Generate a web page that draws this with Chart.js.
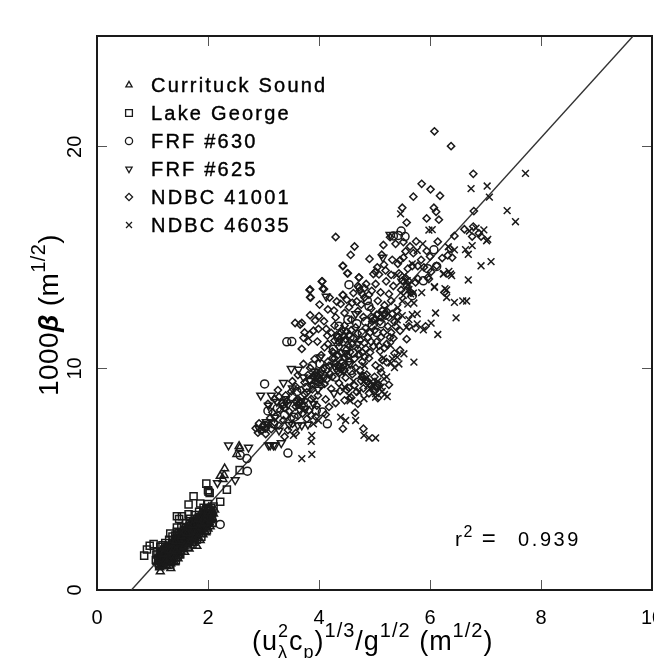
<!DOCTYPE html>
<html>
<head>
<meta charset="utf-8">
<title>Steepness scatter</title>
<script src="https://cdn.jsdelivr.net/npm/chart.js@4"></script>
<style>
  html, body { margin: 0; padding: 0; background: #fff; overflow: hidden; }
  canvas { display: block; filter: blur(0.35px); }
</style>
</head>
<body>
<canvas id="chart" width="654" height="658"></canvas>
<script>
// values, [x, y]
const currituck = [
  [2.56,6.49],[2.52,6.13],[2.57,6.4],[2.3,5.48],[2.22,5.14],[2.29,5.18],[2.27,5.0],[1.14,0.83],[1.33,0.98],[1.8,1.98],
  [1.08,1.25],[1.11,1.58],[1.13,1.02],[1.16,1.77],[1.18,1.36],[1.2,1.12],[1.22,1.64],[1.24,1.98],[1.27,1.26],[1.29,1.51],
  [1.31,2.1],[1.33,1.2],[1.35,1.72],[1.37,2.24],[1.39,1.41],[1.41,1.91],[1.43,1.5],[1.45,2.46],[1.47,1.66],[1.49,2.18],
  [1.51,1.74],[1.53,2.67],[1.55,1.98],[1.57,2.33],[1.59,2.41],[1.61,2.86],[1.63,2.06],[1.65,2.52],[1.67,2.58],[1.69,3.04],
  [1.71,2.28],[1.73,2.72],[1.75,2.76],[1.77,3.22],[1.79,2.46],[1.81,2.92],[1.83,2.96],[1.85,3.38],[1.87,2.61],[1.89,3.14],
  [1.91,3.14],[1.93,3.58],[1.95,2.82],[1.97,3.31],[1.99,2.98],[2.01,3.72],[2.03,3.03],[2.06,3.42],[2.09,3.2],[2.12,3.62],
  [1.2,1.9],[1.26,1.08],[1.4,1.24],[1.46,1.42],[1.58,1.72],[1.66,1.86],[1.74,2.12],[1.86,2.24],[1.96,2.6],[2.04,2.86],
  [1.12,1.34],[1.17,1.06],[1.23,1.42],[1.28,1.8],[1.34,1.56],[1.38,1.84],[1.44,1.64],[1.5,1.92],[1.56,2.14],[1.6,2.26],
  [1.64,2.18],[1.68,2.38],[1.72,2.44],[1.76,2.38],[1.8,2.62],[1.84,2.52],[1.88,2.82],[1.92,2.72],[1.98,2.84],[2.02,3.3],
  [1.14,1.5],[1.22,1.26],[1.3,1.38],[1.42,2.2],[1.54,2.2],[1.7,2.72],[1.82,3.2],[1.94,3.3],[2.0,3.44],[2.08,3.56],
  [1.15,1.12],[1.19,1.62],[1.25,1.22],[1.32,1.78],[1.36,1.3],[1.42,1.76],[1.48,1.56],[1.52,2.42],[1.57,1.96],[1.62,2.56],
  [1.67,2.12],[1.72,2.92],[1.77,2.22],[1.83,2.34],[1.87,3.0],[1.91,2.5],[1.95,3.02],[2.0,2.76],[2.05,3.14],[2.1,3.44]
];
const lakeGeorge = [
  [1.97,4.8],[2.01,4.43],[2.0,4.5],[2.03,4.38],[1.74,4.23],[1.65,3.86],[2.34,4.53],[2.22,3.98],[1.44,3.33],[1.53,3.33],
  [1.65,3.42],[1.48,3.2],[1.02,2.07],[0.9,1.83],[0.85,1.55],[0.95,2.0],[1.32,2.55],[1.44,2.82],[2.57,5.41],[1.86,3.9],
  [1.06,1.35],[1.09,1.72],[1.12,1.1],[1.14,1.95],[1.17,1.52],[1.19,1.28],[1.21,1.83],[1.23,2.12],[1.26,1.44],[1.28,1.67],
  [1.3,2.27],[1.32,1.15],[1.34,1.92],[1.36,2.41],[1.38,1.58],[1.4,2.08],[1.42,1.33],[1.44,2.63],[1.46,1.81],[1.48,2.35],
  [1.5,1.62],[1.52,2.84],[1.54,2.14],[1.56,1.88],[1.58,2.57],[1.6,3.02],[1.62,2.22],[1.64,1.95],[1.66,2.73],[1.68,3.21],
  [1.7,2.46],[1.72,2.05],[1.74,2.91],[1.76,3.38],[1.78,2.62],[1.8,2.28],[1.82,3.12],[1.84,3.53],[1.86,2.77],[1.88,2.41],
  [1.9,3.3],[1.92,3.71],[1.94,2.96],[1.96,3.45],[1.98,2.7],[2.0,3.88],[2.02,3.18],[2.05,3.56],[2.08,3.03],[2.1,3.77],
  [1.1,1.42],[1.15,1.18],[1.25,1.75],[1.35,1.48],[1.45,2.04],[1.55,2.46],[1.65,2.32],[1.75,2.55],[1.85,3.04],[1.95,3.18],
  [1.07,1.6],[1.18,2.02],[1.29,2.0],[1.41,2.46],[1.53,2.3],[1.63,2.68],[1.73,3.11],[1.83,2.7],[1.93,3.05],[2.03,3.4],
  [1.13,1.66],[1.16,1.3],[1.22,1.5],[1.27,1.9],[1.33,1.7],[1.37,2.12],[1.43,1.86],[1.47,2.56],[1.51,2.1],[1.57,2.7],
  [1.61,2.44],[1.67,2.96],[1.71,2.7],[1.77,2.98],[1.81,2.84],[1.87,3.28],[1.91,3.04],[1.97,3.66],[2.01,3.06],[2.07,3.3],
  [1.2,1.44],[1.31,1.62],[1.39,1.9],[1.49,1.98],[1.59,2.16],[1.69,2.56],[1.79,2.76],[1.89,2.92],[1.99,3.2],[2.06,3.7],
  [1.11,1.22],[1.17,1.74],[1.24,1.32],[1.3,1.5],[1.36,1.8],[1.42,2.32],[1.46,1.6],[1.52,2.58],[1.56,2.2],[1.6,2.78],
  [1.64,2.3],[1.68,2.72],[1.72,2.58],[1.76,3.1],[1.8,2.5],[1.84,3.28],[1.88,2.66],[1.92,3.46],[1.96,2.9],[2.0,3.6]
];
const frf630 = [
  [2.7,5.93],[2.71,5.36],[2.22,2.96],[2.58,6.08],[3.44,6.18],[4.15,7.5],[4.06,8.03],[3.51,11.21],[4.54,13.78],[4.87,13.06],
  [5.43,16.0],[5.55,15.95],[5.48,16.2],[5.34,15.98],[3.42,11.2],[3.25,8.2],[3.55,7.8],[3.6,8.95],[3.02,9.3],[4.9,12.8],
  [1.11,1.44],[1.16,1.62],[1.2,1.18],[1.25,1.55],[1.3,1.82],[1.34,1.36],[1.38,2.02],[1.43,1.72],[1.47,2.28],[1.5,2.0],
  [1.54,2.52],[1.58,2.12],[1.62,2.64],[1.66,2.4],[1.7,2.9],[1.74,2.48],[1.78,3.02],[1.82,2.72],[1.86,3.22],[1.9,2.88],
  [1.94,3.38],[1.98,3.12],[2.02,3.54],[2.06,3.22],[1.24,1.3],[1.36,1.62],[1.5,2.24],[1.62,2.42],[1.76,2.82],[1.88,3.02],
  [4.02,10.2],[4.3,9.6],[4.36,11.9],[4.46,11.2],[4.62,10.7],[4.78,11.6],[4.96,11.95],[5.08,12.4],[3.86,9.5],[3.72,8.3],
  [3.38,7.9],[3.08,8.08],[5.12,12.02],[5.68,13.28],[5.88,13.95],[5.96,14.5],[6.12,14.6],[6.07,15.35],
  [1.15,1.4],[1.28,1.6],[1.4,2.16],[1.52,2.32],[1.6,2.52],[1.72,2.6],[1.84,3.1],[1.92,3.16],[2.0,3.3],[1.18,1.2],
  [3.36,8.42],[3.62,8.5],[3.94,9.62],[4.0,9.4],[4.38,10.04],[4.42,10.2],[4.34,11.4],[4.98,12.24],[5.16,12.56],[5.2,12.4],
  [4.8,9.62],[5.04,9.2],[3.95,8.1],[3.18,7.5],[3.02,7.42],[4.52,12.2],
  [3.52,8.72],[3.78,9.14],[3.88,10.12],[4.12,9.98],[4.26,10.86],[4.56,11.42],[4.68,12.02],[4.84,12.12],[5.04,11.62],[4.58,9.9]
];
const frf625 = [
  [2.37,6.53],[2.73,6.43],[2.95,8.78],[3.5,9.98],[3.63,9.95],[4.13,13.24],[3.12,6.53],[3.21,6.53],[3.32,6.63],[3.62,7.43],
  [3.69,7.43],[3.8,7.47],[3.14,8.78],[3.09,8.33],[4.27,8.88],[4.48,10.69],[4.66,12.46],[5.28,16.03],[3.09,6.53],[3.18,6.53],
  [2.49,4.96],[2.17,4.83],[3.24,8.5],[3.4,8.62],[3.52,9.1],[3.36,9.35],[3.72,9.6],[3.66,8.1],[3.9,8.4],[3.98,9.05],
  [4.1,9.6],[4.28,10.1],[4.56,10.2],[3.05,7.58],[3.28,7.2],[3.46,7.46],[2.92,7.28],[5.15,15.0],
  [3.68,8.52],[3.76,8.18],[3.84,9.44],[3.92,9.86],[4.04,9.78],[4.44,9.9],[4.7,11.1],[4.02,10.5],[3.44,8.36],[3.2,7.78]
];
const ndbc41001 = [
  [6.08,20.7],[6.38,20.03],[6.78,18.78],[5.85,18.33],[6.01,18.08],[6.18,17.79],[5.7,17.75],[5.5,17.25],[6.07,17.25],[6.11,17.07],
  [5.58,16.58],[5.94,16.77],[6.16,16.71],[6.79,17.1],[4.3,15.93],[4.64,15.5],[4.57,15.12],[5.16,15.57],[5.75,15.73],[6.14,15.72],
  [5.13,15.13],[4.91,14.94],[4.43,14.62],[4.52,14.29],[4.05,13.92],[3.84,13.56],[4.07,13.59],[3.85,13.2],[4.19,13.2],[4.43,13.32],
  [4.72,14.1],[5.05,14.56],[5.2,14.42],[5.17,14.68],[4.98,14.26],[5.21,13.93],[5.44,14.29],[5.02,13.81],[5.11,13.43],[5.26,13.36],
  [4.72,14.11],[4.85,13.81],[4.43,13.31],[4.01,12.88],[3.57,12.05],[3.69,12.05],[3.93,12.16],[4.09,12.13],[3.69,10.88],[3.72,11.38],
  [3.83,11.53],[3.97,11.21],[3.81,11.21],[3.99,11.78],[4.13,11.78],[4.15,11.48],[4.27,12.61],[4.39,12.91],[4.54,12.76],[4.6,12.96],
  [5.98,14.03],[6.26,13.43],[5.89,14.56],[6.12,14.63],[5.7,15.2],[6.44,15.98],[6.62,16.28],[6.78,16.4],[6.88,16.1],[6.92,15.95],
  [6.4,15.0],[6.0,15.05],[5.68,14.62],[5.78,14.05],[5.96,14.1],[6.36,15.4],[6.76,15.95],[5.46,14.88],[5.32,14.9],[5.52,15.0],
  [3.83,13.54],[4.09,13.58],[4.43,14.63],[4.51,14.29],[4.06,13.93],[3.84,13.21],[4.72,13.65],[4.62,13.4],[4.82,13.2],[4.95,13.5],
  [4.3,12.3],[4.46,12.5],[4.58,12.2],[4.7,12.58],[4.8,12.32],[4.94,12.7],[5.06,13.05],[5.18,12.85],[5.3,13.05],[5.4,12.6],
  [4.22,11.6],[4.34,11.4],[4.42,11.75],[4.54,11.52],[4.66,11.85],[4.74,11.28],[4.88,11.4],[5.0,11.72],[5.12,11.42],[5.24,11.9],
  [5.36,12.1],[4.1,10.95],[4.24,10.76],[4.36,10.98],[4.5,10.86],[4.6,11.1],[4.72,10.64],[4.84,10.9],[4.98,11.0],[5.1,10.78],
  [5.22,11.1],[3.92,10.42],[4.04,10.6],[4.16,10.3],[4.28,10.46],[4.42,10.28],[4.52,10.56],[4.66,10.02],[4.78,10.3],[4.9,10.46],
  [5.02,10.14],[5.14,10.38],[3.72,10.2],[3.84,10.02],[3.96,9.82],[4.08,10.02],[4.2,9.76],[4.34,9.9],[4.48,9.58],[4.6,9.74],
  [4.74,9.92],[4.88,9.42],[5.0,9.62],[5.12,9.82],[3.52,9.42],[3.62,9.7],[3.74,9.36],[3.86,9.24],[3.98,9.52],[4.1,9.3],
  [4.22,9.08],[4.36,9.34],[4.5,9.02],[4.64,9.24],[4.8,9.1],[4.94,9.24],[3.26,9.02],[3.4,8.78],[3.5,8.96],[3.62,8.62],
  [3.74,8.84],[3.86,8.62],[3.98,8.78],[4.12,8.6],[4.3,8.44],[4.46,8.56],[4.58,8.68],[4.7,8.4],[3.08,8.4],[3.2,8.62],
  [3.34,8.3],[3.46,8.06],[3.58,8.28],[3.7,7.96],[3.82,8.1],[3.94,7.82],[4.12,7.92],[4.65,8.0],[4.43,7.28],[4.8,7.28],
  [2.86,7.3],[2.92,7.52],[2.98,7.36],[3.04,7.04],[3.14,7.26],[3.2,7.56],[3.28,7.42],[3.38,6.92],[3.44,7.22],[3.52,7.5],
  [3.58,7.08],[5.28,15.92],[5.38,15.62],[5.56,15.28],[5.42,14.72],[5.6,14.5],[5.78,14.62],[5.3,14.22],[5.58,13.72],[5.66,13.42],
  [3.66,11.98],[3.74,11.62],[3.84,12.4],[3.9,11.7],[4.0,12.36],[4.16,12.66],[4.32,13.02],[4.5,13.1],[4.68,13.02],[4.76,12.88],
  [5.34,11.36],[5.46,11.7],[5.58,11.32],[5.62,11.9],[5.46,10.82],[5.36,10.68],[5.22,10.28],[5.1,10.0],[5.92,11.9],[5.74,11.82],
  [4.32,11.5],[4.38,11.3],[4.44,11.46],[4.4,11.62],[4.36,11.18],[4.28,11.26],[4.48,11.32],[4.52,11.06],[4.94,12.34],[5.0,12.22],
  [5.04,12.42],[4.96,12.12],[5.14,12.62],[5.18,12.44],[5.22,12.58],[5.12,12.3],[3.92,9.72],[3.98,9.66],[4.02,9.48],[3.94,9.44],
  [3.9,9.62],[4.04,9.22],[4.34,10.14],[4.4,9.96],[4.44,10.12],[4.36,9.78],[4.46,9.92],[4.3,10.22],[3.66,8.46],[3.7,8.32],
  [3.62,8.36],[3.58,8.52],[3.74,8.54],[3.34,8.44],[3.38,8.22],[3.3,8.12],[3.42,8.5],[3.0,7.44],[3.04,7.28],[2.96,7.2],
  [3.08,7.5],[2.9,7.1],[4.78,9.62],[4.84,9.46],[4.76,9.44],[4.86,9.72],[5.02,9.18],[5.08,9.26],[5.0,8.98],[4.98,9.36],
  [4.74,13.52],[4.78,13.36],[4.7,13.72],[5.02,14.36],[5.08,14.24],[5.56,14.08],[5.62,13.92],[5.5,13.96],[4.9,13.32],[4.82,13.62],
  [4.28,11.94],[4.46,11.94],[4.58,11.72],[4.7,11.58],[4.84,11.82],[5.1,12.1],[5.26,12.3],[5.3,11.62],[4.16,11.1],[4.24,10.46],
  [3.58,9.18],[3.68,9.02],[3.78,8.92],[3.8,9.7],[3.88,9.06],[4.06,9.92],[4.14,9.5],[4.18,10.12],[4.24,9.62],[4.26,10.7],
  [4.34,10.6],[4.4,10.7],[4.46,10.5],[4.54,10.3],[4.56,10.74],[4.64,10.44],[4.7,10.88],[4.78,10.72],[4.82,10.52],[4.92,10.72],
  [4.94,11.2],[5.04,11.2],[5.08,11.02],[5.16,11.62],[5.18,10.92],[5.28,11.4],[5.32,12.46],[5.38,11.9],[5.42,12.3],[4.62,11.36],
  [4.5,11.66],[4.82,11.14],[4.92,11.62],[3.28,8.72],[3.16,8.02],[3.12,7.76],[3.22,7.84],[3.36,7.66],[3.5,7.74],[3.62,7.86],
  [3.78,7.72],[3.86,7.88],[3.96,8.32],[4.18,8.26],[4.38,8.98],[4.54,9.12],[4.68,8.94],[4.9,8.88],[5.06,8.66],[5.26,9.26],
  [5.52,15.7],[5.64,15.5],[5.84,14.9],[5.94,15.3],[6.22,14.98],[6.32,15.1],[6.02,14.36],[5.74,13.88],[5.48,13.54],[5.34,13.72]
];
const ndbc46035 = [
  [7.72,18.8],[7.03,18.23],[6.74,18.11],[7.07,17.73],[7.39,17.12],[7.54,16.62],[5.47,16.97],[6.04,16.26],[5.98,16.24],[6.71,16.2],
  [6.83,16.33],[6.97,16.25],[7.02,15.76],[7.04,15.82],[6.76,15.54],[5.87,15.62],[5.77,15.32],[6.33,15.49],[6.44,15.35],[6.64,15.36],
  [6.69,15.15],[6.92,14.63],[7.1,14.82],[6.34,14.38],[6.39,14.19],[6.25,14.28],[6.69,13.99],[6.08,13.66],[6.3,13.54],[6.27,13.6],
  [6.59,13.05],[6.66,13.04],[5.68,14.72],[5.4,14.2],[5.47,13.9],[5.52,13.3],[5.6,13.76],[5.62,13.56],[5.7,13.4],[5.85,13.42],
  [6.37,14.26],[6.24,14.26],[5.59,13.96],[5.65,13.36],[5.71,12.95],[5.5,12.38],[5.41,12.19],[5.58,11.86],[5.77,12.01],[5.71,10.28],
  [6.14,11.53],[6.02,12.04],[5.88,11.74],[5.77,12.46],[5.68,12.43],[6.1,12.5],[6.47,12.28],[6.44,12.98],[6.08,13.69],[6.3,13.2],
  [5.53,10.66],[5.41,10.51],[5.29,11.03],[5.32,10.43],[5.17,9.53],[4.75,9.68],[4.84,9.53],[4.72,8.93],[4.81,8.63],[5.23,8.73],
  [5.02,8.7],[5.08,9.08],[4.54,8.78],[4.39,7.8],[4.48,7.65],[4.66,7.65],[4.81,6.98],[4.9,6.86],[5.02,6.86],[3.87,6.98],
  [3.86,6.71],[3.87,6.12],[3.69,5.93],[3.54,6.98],[3.99,7.65],[3.9,7.5],[3.9,8.55],[4.96,9.28],[5.06,9.42],[5.14,8.96],
  [5.22,9.62],[5.36,10.04],[5.44,10.2],[5.16,10.46],[4.82,10.12],[5.02,8.86],[4.62,9.42],[4.46,9.16],[4.56,8.54],[5.6,12.9],
  [4.8,9.4],[4.88,9.22],[4.92,9.08],[5.12,9.16],[5.18,8.82],[5.3,10.24],[5.5,13.04],[5.42,12.74],[5.62,12.2],[5.54,14.2]
];
const fitLine = [[0.62, 0], [9.66, 25]];
const xTicks = [0, 2, 4, 6, 8, 10];
const yTicks = [0, 10, 20];

const black = "#1a1a1a";
const toXY = list => list.map(p => ({ x: p[0], y: p[1] }));

function scatterSet(label, points, pointStyle, radius, rotation) {
  return {
    label, data: toXY(points), pointStyle, pointRadius: radius, pointRotation: rotation || 0,
    pointBackgroundColor: "transparent", pointBorderColor: black, pointBorderWidth: 1.5,
    showLine: false
  };
}

const sets = [
  scatterSet("Currituck Sound", currituck, "triangle", 4.5),
  scatterSet("Lake George", lakeGeorge, "rect", 5),
  scatterSet("FRF #630", frf630, "circle", 4),
  scatterSet("FRF #625", frf625, "triangle", 4.5, 180),
  scatterSet("NDBC 41001", ndbc41001, "rectRot", 3.6),
  scatterSet("NDBC 46035", ndbc46035, "crossRot", 4.8)
];

const sansFont = '"Liberation Sans", Arial, sans-serif';

// run of text with its own font size and baseline shift
function drawRuns(ctx, runs, x, y, spacing) {
  ctx.letterSpacing = spacing + "px";
  runs.forEach(r => {
    ctx.font = r.font || (r.size + "px " + sansFont);
    const rx = r.dx !== undefined ? x + r.dx : x;
    ctx.fillText(r.text, rx, y + (r.dy || 0));
    if (!r.overlay) x = rx + ctx.measureText(r.text).width;
  });
  ctx.letterSpacing = "0px";
}

const annotations = {
  id: "annotations",
  afterDraw(chart) {
    const ctx = chart.ctx;
    ctx.save();
    ctx.textBaseline = "alphabetic";
    ctx.textAlign = "left";

    // legend inside the plot
    const legendY = [85, 113, 141, 169, 197, 225];
    sets.forEach((s, i) => {
      ctx.strokeStyle = black;
      ctx.fillStyle = "rgba(0,0,0,0)";
      ctx.lineWidth = 1.3;
      Chart.helpers.drawPoint(ctx, {
        pointStyle: s.pointStyle,
        rotation: s.pointRotation,
        radius: s.pointStyle === "rect" ? 4.8 : s.pointStyle === "crossRot" ? 4.2 : 3.6,
        borderWidth: 1.3
      }, 129, legendY[i]);
      ctx.fillStyle = "#000";
      ctx.font = "20px " + sansFont;
      ctx.letterSpacing = "2.2px";
      ctx.fillText(s.label, 151, legendY[i] + 7);
      ctx.lineWidth = 0.4;
      ctx.strokeStyle = "#000";
      ctx.strokeText(s.label, 151, legendY[i] + 7);
      ctx.letterSpacing = "0px";
    });

    // r squared note
    ctx.fillStyle = "#000";
    drawRuns(ctx, [
      { text: "r", size: 21 },
      { text: "2", size: 16, dy: -9 },
      { text: " =", size: 24 }
    ], 455, 546, 1.4);
    drawRuns(ctx, [{ text: "0.939", size: 20 }], 518, 546, 2.6);

    // x axis title
    drawRuns(ctx, [
      { text: "(u", size: 27 },
      { text: "2", size: 18, dy: -13, overlay: true },
      { text: "λ", size: 18, dy: 8 },
      { text: "c", size: 27, dx: 1 },
      { text: "p", size: 18, dy: 8 },
      { text: ")", size: 27 },
      { text: "1/3", size: 20, dy: -13 },
      { text: "/g", size: 27 },
      { text: "1/2", size: 20, dy: -13 },
      { text: " (m", size: 27 },
      { text: "1/2", size: 20, dy: -13 },
      { text: ")", size: 27 }
    ], 252, 650, 1);

    // y axis title
    ctx.translate(58, 396);
    ctx.rotate(-Math.PI / 2);
    drawRuns(ctx, [
      { text: "1000", size: 28 },
      { text: "β", font: 'italic bold 28px "Liberation Sans", Arial, sans-serif' },
      { text: " (m", size: 28 },
      { text: "1/2", size: 20, dy: -13 },
      { text: ")", size: 28 }
    ], 0, 0, 0.4);
    ctx.restore();
  }
};

const fixedTicks = list => ({ afterBuildTicks: s => { s.ticks = list.map(value => ({ value })); } });
const tickMarks = { drawOnChartArea: false, drawTicks: true, tickLength: -10, color: "#555", lineWidth: 1 };
const frame = { display: true, width: 2, color: black };

new Chart(document.getElementById("chart").getContext("2d"), {
  type: "scatter",
  data: {
    datasets: sets.concat([{
      label: "fit", data: toXY(fitLine), showLine: true, pointRadius: 0,
      borderColor: "#333", borderWidth: 1.4
    }])
  },
  plugins: [annotations],
  options: {
    responsive: false,
    animation: false,
    events: [],
    layout: { autoPadding: false, padding: { top: 36, right: 2, left: 0, bottom: 0 } },
    plugins: { legend: { display: false }, tooltip: { enabled: false }, title: { display: false } },
    scales: {
      x: {
        type: "linear", position: "bottom", min: 0, max: 10,
        ...fixedTicks(xTicks),
        // tick padding would otherwise eat into the plot width
        afterFit: s => { s.height = 68; s.paddingLeft = 0; s.paddingRight = 0; },
        grid: tickMarks, border: frame,
        ticks: { autoSkip: false, padding: 26, color: "#000", font: { family: sansFont, size: 20 } }
      },
      y: {
        type: "linear", position: "left", min: 0, max: 25,
        ...fixedTicks(yTicks),
        afterFit: s => { s.width = 97; s.paddingTop = 0; s.paddingBottom = 0; },
        grid: tickMarks, border: frame,
        ticks: {
          autoSkip: false, minRotation: 90, maxRotation: 90, crossAlign: "center", padding: 20,
          color: "#000", font: { family: sansFont, size: 20 }
        }
      },
      x2: {
        type: "linear", position: "top", min: 0, max: 10,
        ...fixedTicks(xTicks),
        afterFit: s => { s.height = 0; },
        grid: tickMarks, border: frame, ticks: { display: false }
      },
      y2: {
        type: "linear", position: "right", min: 0, max: 25,
        ...fixedTicks(yTicks),
        afterFit: s => { s.width = 0; },
        grid: tickMarks, border: frame, ticks: { display: false }
      }
    }
  }
});
</script>
</body>
</html>
